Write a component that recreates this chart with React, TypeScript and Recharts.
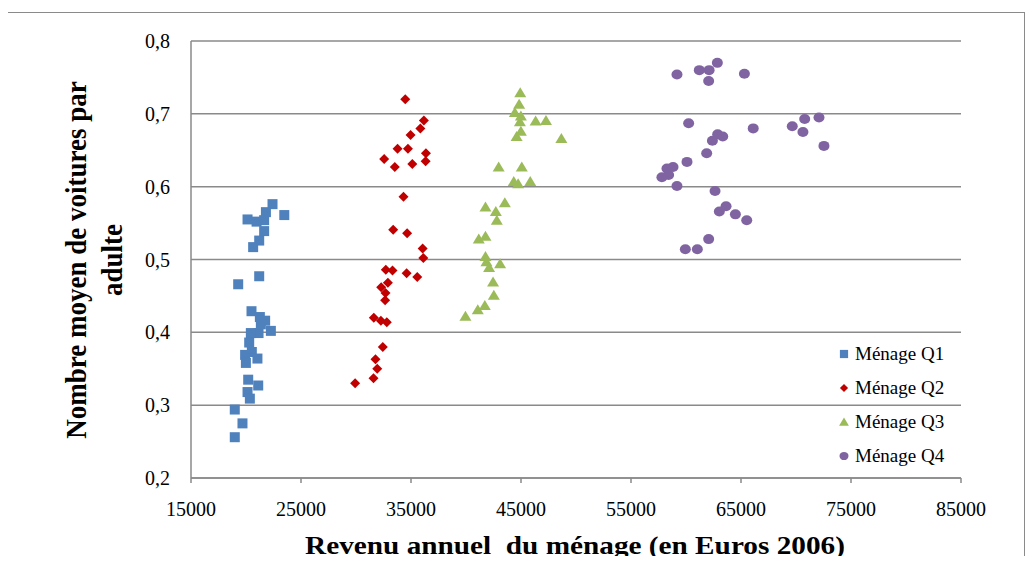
import { ScatterChart, Scatter, XAxis, YAxis, CartesianGrid, Legend } from "recharts";

// Revenu annuel (euros 2006) et nombre moyen de voitures par adulte, par quartile
const q1Revenu = [22410, 23480, 21810, 20140, 20960, 21650, 21650, 21200, 20650, 21200, 19290, 20500, 21260, 21740, 22260, 21140, 20440, 21350, 20290, 20530, 19920, 21040, 19990, 20200, 21110, 20140, 20350, 18980, 19680, 18980];
const q1Voitures = [0.576, 0.561, 0.565, 0.555, 0.552, 0.554, 0.539, 0.526, 0.517, 0.477, 0.466, 0.429, 0.421, 0.416, 0.402, 0.399, 0.399, 0.411, 0.386, 0.373, 0.369, 0.364, 0.358, 0.335, 0.327, 0.318, 0.309, 0.294, 0.275, 0.256];

const q2Revenu = [34480, 36170, 35850, 34960, 33780, 34720, 36360, 32560, 36330, 33530, 35120, 34320, 33380, 34650, 36060, 36120, 32710, 33320, 34600, 35570, 32900, 32290, 32680, 32650, 31620, 32260, 32800, 32440, 31770, 31930, 31590, 29920];
const q2Voitures = [0.72, 0.691, 0.68, 0.671, 0.652, 0.652, 0.646, 0.638, 0.635, 0.627, 0.631, 0.586, 0.541, 0.536, 0.515, 0.502, 0.486, 0.485, 0.481, 0.476, 0.468, 0.462, 0.454, 0.444, 0.42, 0.416, 0.414, 0.38, 0.363, 0.35, 0.337, 0.33];

const q3Revenu = [44930, 44830, 44440, 44990, 44900, 46330, 47270, 44990, 44600, 48670, 42970, 45070, 44340, 44740, 45840, 43530, 41770, 42710, 42800, 41160, 41770, 41770, 41860, 42100, 43100, 42460, 42530, 41710, 41070, 39950];
const q3Voitures = [0.729, 0.713, 0.702, 0.697, 0.689, 0.69, 0.691, 0.676, 0.669, 0.666, 0.627, 0.627, 0.607, 0.604, 0.607, 0.578, 0.572, 0.566, 0.554, 0.528, 0.532, 0.504, 0.497, 0.489, 0.494, 0.469, 0.451, 0.437, 0.431, 0.422];

const q4Revenu = [62850, 59180, 61210, 62100, 62060, 65310, 60240, 66110, 69660, 70790, 72090, 70630, 72540, 62880, 63340, 62400, 61880, 60090, 58820, 58270, 58420, 57810, 59180, 62640, 63640, 63030, 64490, 65520, 62060, 59940, 61030];
const q4Voitures = [0.77, 0.754, 0.76, 0.76, 0.745, 0.755, 0.687, 0.68, 0.683, 0.693, 0.695, 0.675, 0.656, 0.672, 0.669, 0.663, 0.646, 0.634, 0.627, 0.625, 0.616, 0.613, 0.601, 0.594, 0.573, 0.566, 0.562, 0.554, 0.528, 0.514, 0.514];

const xTicks = [15000, 25000, 35000, 45000, 55000, 65000, 75000, 85000];
const yTicks = [0.2, 0.3, 0.4, 0.5, 0.6, 0.7, 0.8];

const seriesNames = ["Ménage Q1", "Ménage Q2", "Ménage Q3", "Ménage Q4"];
const seriesColors = ["#4F81BD", "#C00000", "#9BBB59", "#8064A2"];
const seriesShapes = ["square", "diamond", "triangle", "circle"];

const toPoints = (xs: number[], ys: number[]) => xs.map((x, i) => ({ x, y: ys[i] }));
const seriesData = [
  toPoints(q1Revenu, q1Voitures),
  toPoints(q2Revenu, q2Voitures),
  toPoints(q3Revenu, q3Voitures),
  toPoints(q4Revenu, q4Voitures),
];

const FONT = "'Liberation Serif', 'Times New Roman', serif";
const AXIS = "#8a8a8a";

function marker(kind: string, cx: number, cy: number, color: string, s = 1) {
  if (kind === "square") {
    return <rect x={cx - 5 * s} y={cy - 5 * s} width={10 * s} height={10 * s} fill={color} />;
  }
  if (kind === "diamond") {
    const r = 5 * s;
    return <polygon points={`${cx},${cy - r} ${cx + r},${cy} ${cx},${cy + r} ${cx - r},${cy}`} fill={color} />;
  }
  if (kind === "triangle") {
    return (
      <polygon
        points={`${cx},${cy - 5.5 * s} ${cx + 6 * s},${cy + 4.5 * s} ${cx - 6 * s},${cy + 4.5 * s}`}
        fill={color}
      />
    );
  }
  return <ellipse cx={cx} cy={cy} rx={5.5 * s} ry={5 * s} fill={color} />;
}

const renderLegend = () => (
  <div style={{ fontFamily: FONT, fontSize: 19, color: "#000" }}>
    {seriesNames.map((name, i) => (
      <div key={name} style={{ display: "flex", alignItems: "center", height: 34 }}>
        <svg width={14} height={14} style={{ marginRight: 4 }}>
          {marker(seriesShapes[i], 7, 7, seriesColors[i], 0.82)}
        </svg>
        <span>{name}</span>
      </div>
    ))}
  </div>
);

export default function App() {
  return (
    <div style={{ position: "relative", width: 1017, height: 548 }}>
      <div
        style={{
          position: "absolute",
          left: -1,
          top: 4,
          width: 1018,
          height: 552,
          border: `1.5px solid ${AXIS}`,
          borderBottom: "none",
          boxSizing: "border-box",
        }}
      />
      <ScatterChart width={1017} height={548} margin={{ top: 33, right: 64, bottom: 38, left: 0 }}>
        <CartesianGrid vertical={false} stroke={AXIS} strokeWidth={1.5} />
        <XAxis
          type="number"
          dataKey="x"
          domain={[15000, 85000]}
          ticks={xTicks}
          height={40}
          stroke={AXIS}
          strokeWidth={1.5}
          tickSize={5}
          tickMargin={19}
          tick={{ fill: "#000", fontSize: 20, fontFamily: FONT }}
        />
        <YAxis
          type="number"
          dataKey="y"
          domain={[0.2, 0.8]}
          ticks={yTicks}
          width={183}
          stroke={AXIS}
          strokeWidth={1.5}
          tickLine={false}
          tickSize={0}
          tickMargin={21}
          tickFormatter={(v: number) => v.toFixed(1).replace(".", ",")}
          tick={{ fill: "#000", fontSize: 20, fontFamily: FONT }}
        />
        {seriesData.map((data, i) => (
          <Scatter
            key={seriesNames[i]}
            name={seriesNames[i]}
            data={data}
            fill={seriesColors[i]}
            isAnimationActive={false}
            shape={(p: any) => marker(seriesShapes[i], p.cx, p.cy, seriesColors[i])}
          />
        ))}
        <Legend
          layout="horizontal"
          verticalAlign="middle"
          align="center"
          content={renderLegend}
          wrapperStyle={{ left: 829, top: 329, width: 150, right: "auto", bottom: "auto" }}
        />
      </ScatterChart>
      <div
        style={{
          position: "absolute",
          left: 267,
          top: 217,
          width: 400,
          height: 70,
          marginLeft: -378,
          transform: "rotate(-90deg) scaleY(1.12)",
          transformOrigin: "center",
          textAlign: "center",
          fontFamily: FONT,
          fontWeight: "bold",
          fontSize: 27,
          lineHeight: "32px",
          color: "#000",
        }}
      >
        Nombre moyen de voitures par
        <br />
        adulte
      </div>
      <div
        style={{
          position: "absolute",
          left: 267,
          top: 526,
          width: 600,
          height: 24,
          textAlign: "center",
          fontFamily: FONT,
          fontWeight: "bold",
          fontSize: 25,
          lineHeight: "24px",
          color: "#000",
          whiteSpace: "pre",
          transform: "scaleX(1.17)",
        }}
      >
        {"Revenu annuel  du ménage (en Euros 2006)"}
      </div>
    </div>
  );
}
